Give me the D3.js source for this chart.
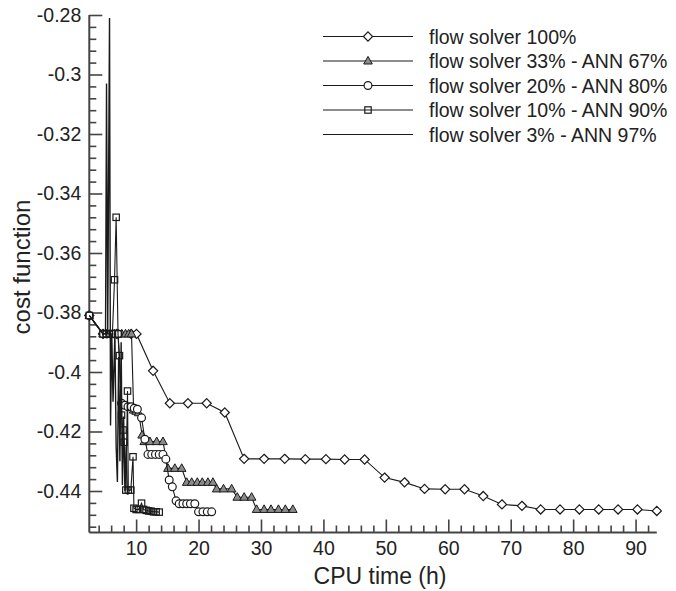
<!DOCTYPE html>
<html><head><meta charset="utf-8">
<script src="https://cdn.jsdelivr.net/npm/d3@7"></script>
<style>body{margin:0;background:#fff}svg{display:block}text{font-family:"Liberation Sans",Arial,Helvetica,sans-serif;fill:#222}</style>
</head><body><svg id="c" width="676" height="591"></svg>
<script>
// ---- data ----
const seriesNames = ["flow solver 100%","flow solver 33% - ANN 67%","flow solver 20% - ANN 80%","flow solver 10% - ANN 90%","flow solver 3% - ANN 97%"];
const s100x = [2.5,4.7,6.9,9.2,10.06,12.72,15.4,18.3,21.3,24.2,27.3,30.5,33.8,37.1,40.4,43.4,46.6,49.8,53.0,56.2,59.5,62.6,65.6,68.6,71.8,74.8,77.9,81.0,84.1,87.2,90.3,93.4];
const s100y = [-0.381,-0.3872,-0.3872,-0.3872,-0.3872,-0.3996,-0.4105,-0.4105,-0.4105,-0.4136,-0.4292,-0.4292,-0.4292,-0.4293,-0.4293,-0.4294,-0.4294,-0.4355,-0.4371,-0.4393,-0.4394,-0.4394,-0.4417,-0.4445,-0.4450,-0.4462,-0.4462,-0.4462,-0.4462,-0.4462,-0.4462,-0.4467];
const s33x = [2.5,4.7,5.3,5.9,6.5,7.1,7.7,8.3,8.8,9.26,9.6,10.0,10.4,10.96,11.3,12.2,13.3,14.3,15.1,16.2,17.3,18.1,18.9,19.8,20.6,21.5,22.3,22.9,24.0,25.3,26.2,27.3,28.5,29.3,30.5,31.6,32.8,33.9,35.1];
const s33y = [-0.381,-0.3872,-0.3872,-0.3872,-0.3872,-0.3872,-0.3872,-0.3872,-0.3872,-0.3872,-0.4128,-0.4132,-0.4137,-0.4212,-0.4234,-0.4234,-0.4234,-0.4234,-0.4324,-0.4324,-0.4324,-0.4371,-0.4371,-0.4371,-0.4371,-0.4371,-0.4371,-0.4393,-0.4393,-0.4393,-0.4421,-0.4421,-0.4421,-0.4462,-0.4462,-0.4462,-0.4462,-0.4462,-0.4462];
const s20x = [2.5,4.7,5.3,5.9,6.5,7.1,7.66,8.2,8.7,9.2,9.7,10.2,10.87,11.4,11.9,12.5,13.1,13.7,14.3,14.76,15.3,15.8,16.4,16.9,17.5,18.1,18.7,19.4,20.0,20.7,21.4,22.1];
const s20y = [-0.381,-0.3872,-0.3872,-0.3872,-0.3872,-0.3872,-0.4105,-0.4112,-0.4117,-0.4117,-0.4122,-0.4125,-0.4154,-0.4226,-0.4277,-0.4277,-0.4277,-0.4277,-0.4277,-0.4293,-0.4363,-0.4386,-0.4433,-0.4443,-0.4443,-0.4443,-0.4443,-0.4443,-0.4470,-0.4470,-0.4470,-0.4470];
const s10x = [2.5,4.7,5.2,5.7,6.2,6.54,6.8,7.1,7.33,7.66,7.9,8.08,8.35,8.62,8.75,9.15,9.5,9.65,10.0,10.4,10.87,11.2,11.6,12.0,12.4,12.8,13.2,13.7];
const s10y = [-0.381,-0.3872,-0.3872,-0.3872,-0.3872,-0.369,-0.348,-0.3872,-0.3945,-0.4145,-0.4195,-0.4236,-0.4397,-0.4064,-0.4397,-0.4397,-0.4285,-0.4458,-0.4462,-0.4462,-0.4441,-0.4462,-0.4465,-0.4467,-0.4468,-0.4470,-0.4470,-0.4471];
const s3x = [2.5,4.7,5.1,5.26,5.45,5.74,5.9,6.1,6.3,6.6,6.8,7.0,7.2,7.4,7.6,7.8,8.0,8.2,8.4,8.6,8.8];
const s3y = [-0.381,-0.3872,-0.3872,-0.303,-0.3872,-0.281,-0.418,-0.3872,-0.410,-0.3872,-0.425,-0.437,-0.395,-0.430,-0.390,-0.438,-0.415,-0.440,-0.425,-0.441,-0.441];
const xTicks = [10,20,30,40,50,60,70,80,90];
const yTicks = [-0.28,-0.3,-0.32,-0.34,-0.36,-0.38,-0.4,-0.42,-0.44];
const markers = ["diamond","triangle","circle","square","none"];

// ---- layout ----
const svg = d3.select("#c");
const L = 89.3, R = 656.8, T = 15, B = 532.5;
const x = d3.scaleLinear().domain([2.5, 93.4]).range([L, R]);
const y = d3.scaleLinear().domain([-0.45395, -0.28]).range([B, T]);

const axisCol = "#444";
// x axis
const xMinor = d3.range(4, 93, 2).filter(v => v % 10 !== 0);
const gx = svg.append("g").attr("transform", `translate(0,${B})`);
gx.call(d3.axisBottom(x).tickValues(xMinor).tickSize(-7).tickFormat(""));
const gx2 = svg.append("g").attr("transform", `translate(0,${B})`);
gx2.call(d3.axisBottom(x).tickValues(xTicks).tickSize(-13).tickPadding(9).tickFormat(d3.format("d")));
// y axis
const yMinor = d3.range(0, 44).map(i => -0.452 + i * 0.004).filter(v => v <= -0.2799 && Math.abs(Math.round(v / 0.02) * 0.02 - v) > 1e-6);
const gy = svg.append("g").attr("transform", `translate(${L},0)`);
gy.call(d3.axisLeft(y).tickValues(yMinor).tickSize(-7).tickFormat(""));
const gy2 = svg.append("g").attr("transform", `translate(${L},0)`);
gy2.call(d3.axisLeft(y).tickValues(yTicks).tickSize(-13).tickPadding(8).tickFormat(d => String(+d.toFixed(2))));
[gx, gx2, gy, gy2].forEach(g => {
  g.selectAll("path.domain").attr("stroke", axisCol).attr("stroke-width", 2);
  g.selectAll(".tick line").attr("stroke", axisCol).attr("stroke-width", 1.6);
  g.selectAll(".tick text").attr("font-size", 19.5).attr("fill", "#222")
    .style("font-family", '"Liberation Sans",Arial,sans-serif');
});
gx.select("path.domain").attr("d", `M${L},0H${R}`);
gy.select("path.domain").attr("d", `M0,${B}V${T}`);
gx2.select("path.domain").remove();
gy2.select("path.domain").remove();

// axis titles
svg.append("text").attr("x", 380).attr("y", 583.5).attr("text-anchor", "middle").attr("font-size", 23).text("CPU time (h)");
svg.append("text").attr("transform", "translate(30,267) rotate(-90)").attr("text-anchor", "middle").attr("font-size", 24).text("cost function");

// ---- series ----
const series = [
  {xs: s100x, ys: s100y},
  {xs: s33x, ys: s33y},
  {xs: s20x, ys: s20y},
  {xs: s10x, ys: s10y},
  {xs: s3x, ys: s3y}
].map((s, i) => ({name: seriesNames[i], marker: markers[i], pts: s.xs.map((v, j) => [v, s.ys[j]])}));

const line = d3.line().x(d => x(d[0])).y(d => y(d[1]));
const lineCol = "#1a1a1a";

function drawMarker(g, type, cx, cy) {
  if (type === "diamond") {
    g.append("path").attr("d", `M${cx},${cy-4.6}L${cx+4.6},${cy}L${cx},${cy+4.6}L${cx-4.6},${cy}Z`)
      .attr("fill", "#fff").attr("stroke", lineCol).attr("stroke-width", 1.2);
  } else if (type === "triangle") {
    g.append("path").attr("d", `M${cx},${cy-4.6}L${cx+4.3},${cy+3}L${cx-4.3},${cy+3}Z`)
      .attr("fill", "#8a8a8a").attr("stroke", lineCol).attr("stroke-width", 1);
  } else if (type === "circle") {
    g.append("circle").attr("cx", cx).attr("cy", cy).attr("r", 3.9)
      .attr("fill", "#fff").attr("stroke", lineCol).attr("stroke-width", 1.2);
  } else if (type === "square") {
    g.append("rect").attr("x", cx-3.2).attr("y", cy-3.2).attr("width", 6.4).attr("height", 6.4)
      .attr("fill", "none").attr("stroke", lineCol).attr("stroke-width", 1.2);
  }
}

const plot = svg.append("g");
series.forEach(s => {
  const g = plot.append("g");
  g.append("path").datum(s.pts).attr("d", line).attr("fill", "none").attr("stroke", lineCol).attr("stroke-width", s.marker === "none" ? 1.4 : 1.1);
  s.pts.forEach(p => drawMarker(g, s.marker, x(p[0]), y(p[1])));
});

// ---- legend ----
const leg = svg.append("g");
series.forEach((s, i) => {
  const ly = 36.5 + i * 24.5;
  leg.append("line").attr("x1", 323).attr("x2", 413).attr("y1", ly).attr("y2", ly).attr("stroke", lineCol).attr("stroke-width", 1.1);
  drawMarker(leg, s.marker, 368, ly);
  leg.append("text").attr("x", 429).attr("y", ly + 7).attr("font-size", 19.5).text(s.name);
});
</script></body></html>
